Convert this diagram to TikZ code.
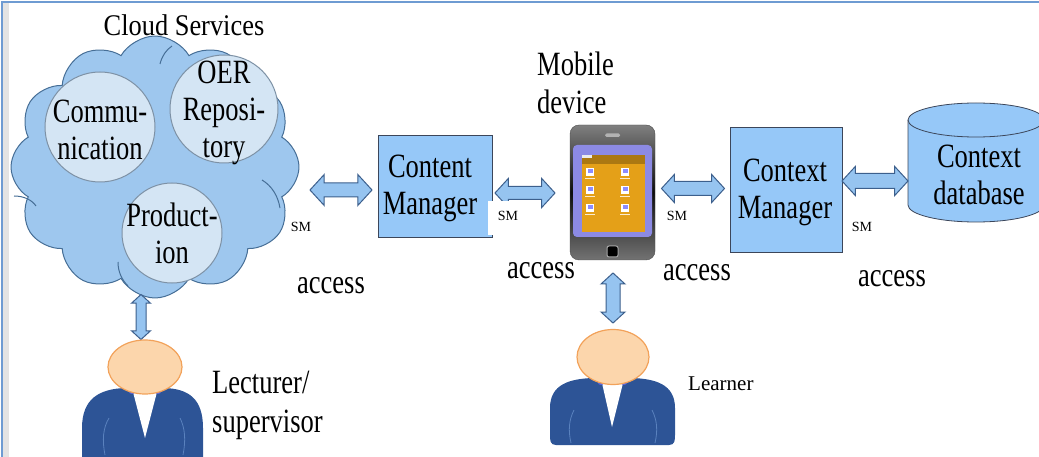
\documentclass[tikz,border=0pt]{standalone}
\usepackage{fontspec}
\setmainfont{Liberation Serif}
\newfontfamily\narrowserif[FakeStretch=0.78]{Liberation Serif}
\newfontfamily\cloudserif[FakeStretch=0.88]{Liberation Serif}
\usetikzlibrary{shapes.symbols,shapes.arrows,shapes.geometric}

\definecolor{cloudfill}{RGB}{158,199,238}
\definecolor{cloudline}{RGB}{70,110,150}
\definecolor{circfill}{RGB}{212,229,244}
\definecolor{circline}{RGB}{125,145,165}
\definecolor{boxfill}{RGB}{150,200,248}
\definecolor{boxline}{RGB}{60,70,90}
\definecolor{arrfill}{RGB}{150,196,240}
\definecolor{arrline}{RGB}{60,95,140}
\definecolor{skin}{RGB}{252,214,172}
\definecolor{skinline}{RGB}{242,162,90}
\definecolor{suit}{RGB}{45,84,150}
\definecolor{suitline}{RGB}{90,130,190}
\definecolor{collar}{RGB}{90,100,215}
\definecolor{framecol}{RGB}{110,155,210}
\definecolor{screenpurple}{RGB}{140,138,228}
\definecolor{screenorange}{RGB}{228,160,24}

\tikzset{
  bigtext/.style={font=\narrowserif\fontsize{34}{37}\selectfont, align=center, inner sep=0pt},
  smtext/.style={font=\fontsize{14}{16}\selectfont, inner sep=0pt},
  incircle/.style={circle, draw=circline, fill=circfill, line width=1pt, inner sep=0pt},
  mgrbox/.style={rectangle, draw=boxline, fill=boxfill, line width=0.8pt, inner sep=0pt},
  blockarrow/.style={double arrow, draw=arrline, fill=arrfill, line width=1pt,
    inner xsep=0pt, double arrow tip angle=95},
  headshape/.style={ellipse, draw=skinline, fill=skin, line width=1.2pt, inner sep=0pt},
}

\begin{document}
\begin{tikzpicture}[x=1pt,y=-1pt]
\useasboundingbox (0,0) rectangle (1039,457);
\begin{scope}
\clip (0,0) rectangle (1039,457);

% frame
\fill[gray!22] (3,3) rectangle (9,457);
\draw[framecol, line width=1.5pt] (2,460) -- (2,2) -- (1045,2);

% cloud with services
\node[cloud, cloud puffs=12, cloud puff arc=120, aspect=1.08, draw=cloudline, fill=cloudfill,
  line width=1pt, minimum width=288pt, minimum height=262pt] (cloud) at (155,167) {};
\draw[cloudline, line width=1pt] (14,196) .. controls (24,196) and (32,200) .. (36,206);
\draw[cloudline, line width=1pt] (118,262) .. controls (118,272) and (122,280) .. (128,286);
\draw[cloudline, line width=1pt] (160,64) .. controls (162,56) and (166,50) .. (172,46);
\draw[cloudline, line width=1pt] (262,180) .. controls (272,186) and (278,196) .. (280,208);
\node[font=\cloudserif\fontsize{30}{34}\selectfont, inner sep=0pt] (cloudtitle) at (184,25) {Cloud Services};
\node[incircle, minimum size=110pt] (comm) at (100,127) {};
\node[incircle, minimum size=108pt] (oer) at (224,109) {};
\node[incircle, minimum size=100pt] (prod) at (172,233) {};
\node[bigtext] (commtext) at (100,130) {Commu-\\nication};
\node[bigtext] (oertext) at (224,113) {OER\\Reposi-\\tory};
\node[bigtext] (prodtext) at (172,233) {Product-\\ion};

% managers
\node[mgrbox, minimum width=114pt, minimum height=102pt] (cm) at (435,186) {};
\node[bigtext] (cmtext) at (430,188) {Content\\Manager};
\node[mgrbox, minimum width=112pt, minimum height=125pt] (ctxm) at (786,189.5) {};
\node[bigtext] (ctxmtext) at (785,192) {Context\\Manager};

% context database cylinder
\fill[boxfill] (908,120) -- (908,205) arc[start angle=180, end angle=0, x radius=68, y radius=17]
  -- (1044,120) arc[start angle=0, end angle=-180, x radius=68, y radius=17] -- cycle;
\draw[boxline, line width=0.8pt] (908,120) -- (908,205) arc[start angle=180, end angle=0, x radius=68, y radius=17]
  -- (1044,120);
\draw[boxline, line width=0.8pt] (976,120) ellipse[x radius=68, y radius=17];
\node[bigtext] (db) at (979,175) {Context\\database};

% mobile device
\node[rectangle, rounded corners=9pt, minimum width=85pt, minimum height=135pt, inner sep=0pt,
  top color=black!50, bottom color=black!55, middle color=black!95, draw=black!70] (phone) at (612.5,192.5) {};
\fill[screenpurple, rounded corners=4pt] (573,145) rectangle (652,237);
\fill[screenorange] (582,155) rectangle (645,232);
\fill[screenorange!75!black] (582,155) rectangle (645,164);
\fill[white!85!gray] (582,155) rectangle (592,158);
\fill[gray!60, rounded corners=1.5pt] (605,133.5) rectangle (620,137);
\draw[gray!70, line width=1pt, rounded corners=2pt, fill=black] (607,246) rectangle (618,257);
\foreach \ix in {590,625}{
  \foreach \iy in {172,190,208}{
    \fill[white] (\ix-4,\iy-4) rectangle (\ix+4,\iy+4);
    \fill[blue!45] (\ix-2.5,\iy-2.5) rectangle (\ix+2.5,\iy+1);
    \fill[white!80!screenorange] (\ix-5,\iy+6) rectangle (\ix+5,\iy+7);
  }
}
\node[bigtext, font=\narrowserif\fontsize{34}{38}\selectfont, align=left, anchor=north west] (mobtext) at (537,52) {Mobile\\device};

% block arrows between components
\node[blockarrow, minimum height=62pt, inner ysep=6.5pt, double arrow head extend=8.5pt] (a1) at (341,190) {};
\node[blockarrow, minimum height=60pt, inner ysep=6pt, double arrow head extend=8pt] (a2) at (525,193) {};
\node[blockarrow, minimum height=63pt, inner ysep=6.5pt, double arrow head extend=7pt] (a3) at (693,188.5) {};
\node[blockarrow, minimum height=66pt, inner ysep=7pt, double arrow head extend=7pt] (a4) at (875,181) {};
\node[blockarrow, rotate=90, minimum height=45pt, inner ysep=4.5pt, double arrow head extend=4.5pt] (a5) at (141,317) {};
\node[blockarrow, rotate=90, minimum height=50pt, inner ysep=6.5pt, double arrow head extend=5pt] (a6) at (613,298) {};

% SM and access labels
\node[smtext] (sm1) at (301,227) {SM};
\node[smtext, fill=white, minimum width=42pt, minimum height=34pt] (sm2) at (509,218) {};
\node[smtext] (sm2text) at (508,216) {SM};
\node[smtext] (sm3) at (677,216) {SM};
\node[smtext] (sm4) at (862,227) {SM};
\node[bigtext] (acc1) at (331,286) {access};
\node[bigtext] (acc2) at (541,270.5) {access};
\node[bigtext] (acc3) at (697,272.5) {access};
\node[bigtext] (acc4) at (892,278.5) {access};

% lecturer / supervisor
\fill[suit] (82,460) -- (82,428) .. controls (82,398) and (100,389) .. (125,388) -- (165,388)
  .. controls (188,389) and (203,398) .. (203,428) -- (203,460) -- cycle;
\draw[suitline, line width=0.8pt] (105,455) .. controls (102,440) and (103,428) .. (109,418);
\draw[suitline, line width=0.8pt] (183,455) .. controls (186,440) and (185,428) .. (180,418);
\fill[white] (133,392) -- (157,392) -- (145,438) -- cycle;
\fill[collar] (132,392) ellipse[x radius=3, y radius=2];
\fill[collar] (158,392) ellipse[x radius=3, y radius=2];
\node[headshape, minimum width=74pt, minimum height=54pt] (lect) at (145,367) {};
\node[bigtext, font=\narrowserif\fontsize{34}{39}\selectfont, align=left, anchor=north west] (lecttext) at (212,371) {Lecturer/\\supervisor};

% learner
\fill[suit] (556,445) .. controls (550,445) and (550,440) .. (550,435) -- (550,408)
  .. controls (550,384) and (570,379) .. (592,378) -- (633,378)
  .. controls (655,379) and (675,384) .. (675,408) -- (675,435)
  .. controls (675,440) and (675,445) .. (669,445) -- cycle;
\draw[suitline, line width=0.8pt] (571,443) .. controls (568,430) and (569,420) .. (574,410);
\draw[suitline, line width=0.8pt] (655,443) .. controls (658,430) and (657,420) .. (652,410);
\fill[white] (602,383) -- (623,383) -- (612,427) -- cycle;
\fill[collar] (601,383) ellipse[x radius=3, y radius=2];
\fill[collar] (624,383) ellipse[x radius=3, y radius=2];
\node[headshape, minimum width=72pt, minimum height=55pt] (learner) at (613,357) {};
\node[font=\fontsize{21}{24}\selectfont, inner sep=0pt, anchor=base west] (learntext) at (688,390) {Learner};
\end{scope}
\end{tikzpicture}
\end{document}
